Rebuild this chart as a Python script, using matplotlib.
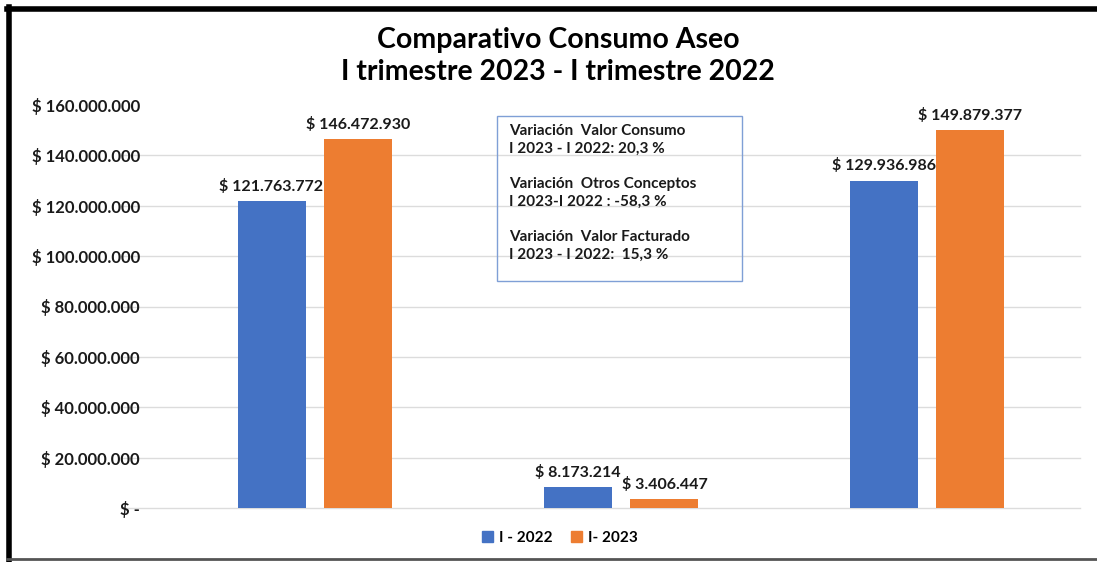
import matplotlib as mpl
mpl.use('Agg')
import matplotlib.pyplot as plt
from matplotlib.lines import Line2D
from matplotlib.patches import Patch
import numpy as np

plt.rcParams['font.family'] = ['Lato', 'DejaVu Sans']
plt.rcParams['font.weight'] = 'bold'

categories = ['Valor Consumo', 'Otros Conceptos', 'Valor Facturado']
serie_2022 = [121763772, 8173214, 129936986]
serie_2023 = [146472930, 3406447, 149879377]
series_names = ['I - 2022', 'I- 2023']
y_ticks = [0, 20e6, 40e6, 60e6, 80e6, 100e6, 120e6, 140e6, 160e6]
nota = ("Variación  Valor Consumo\nI 2023 - I 2022: 20,3 %\n\n"
        "Variación  Otros Conceptos\nI 2023-I 2022 : -58,3 %\n\n"
        "Variación  Valor Facturado\nI 2023 - I 2022:  15,3 %")

azul = '#4472C4'
naranja = '#ED7D31'


def pesos(v):
    if v == 0:
        return '$ -'
    return '$ ' + f'{int(v):,}'.replace(',', '.')


W, H = 1097, 562
fig = plt.figure(figsize=(W / 100, H / 100), dpi=100)
ax = fig.add_axes([162 / W, 54 / H, (1080 - 162) / W, (508 - 105) / H])

x = np.arange(len(categories))
off = 0.142
bw = 0.222
ax.bar(x - off, serie_2022, bw, color=azul, zorder=3)
ax.bar(x + off, serie_2023, bw, color=naranja, zorder=3)

for xi, v in zip(x, serie_2022):
    ax.text(xi - off, v + 3.0e6, pesos(v), ha='center', va='bottom',
            fontsize=11.5, fontweight='bold', color='#1a1a1a', zorder=4)
for xi, v in zip(x, serie_2023):
    ax.text(xi + off, v + 3.0e6, pesos(v), ha='center', va='bottom',
            fontsize=11.5, fontweight='bold', color='#1a1a1a', zorder=4)

for t in y_ticks[:-1]:
    ax.axhline(t, xmin=-0.045, xmax=1.0, color='#dcdcdc', lw=1, zorder=1, clip_on=False)

ax.set_xlim(-0.5, 2.5)
ax.set_ylim(0, 160e6)
ax.set_yticks(y_ticks)
ax.set_yticklabels([pesos(t) for t in y_ticks], fontsize=12, fontweight='bold',
                   color='#1a1a1a')
ax.tick_params(axis='y', length=0, pad=16)
ax.set_xticks([])
for s in ax.spines.values():
    s.set_visible(False)

fig.text(558 / W, 1 - 40 / H, 'Comparativo Consumo Aseo', ha='center', va='center',
         fontsize=20.5, fontweight='bold')
fig.text(558 / W, 1 - 72 / H, 'I trimestre 2023 - I trimestre 2022', ha='center', va='center',
         fontsize=20.5, fontweight='bold')

# cuadro de notas
fig.text(509 / W, 1 - 124 / H, nota, ha='left', va='top', fontsize=11,
         fontweight='bold', linespacing=1.34, color='#1a1a1a')
fig.add_artist(plt.Rectangle((497 / W, 1 - 281 / H), (742 - 497) / W, (281 - 116) / H,
                             transform=fig.transFigure, fill=False, ec='#7f9fd6', lw=1))

handles = [Patch(color=azul), Patch(color=naranja)]
fig.legend(handles, series_names, loc='center', bbox_to_anchor=(560 / W, 1 - 538 / H),
           ncol=2, frameon=False, fontsize=11, handlelength=0.7, handleheight=0.7,
           handletextpad=0.4, columnspacing=1.2)

# marco de la imagen
fig.add_artist(Line2D([9 / W, 9 / W], [1 - 7 / H, 1 - 560 / H], color='black', lw=4))
fig.add_artist(Line2D([7 / W, 1.0], [1 - 9 / H, 1 - 9 / H], color='black', lw=4))
fig.add_artist(Line2D([7 / W, 1.0], [1 - 559 / H, 1 - 559 / H], color='#555555', lw=2))

fig.savefig('out.png', dpi=100)
